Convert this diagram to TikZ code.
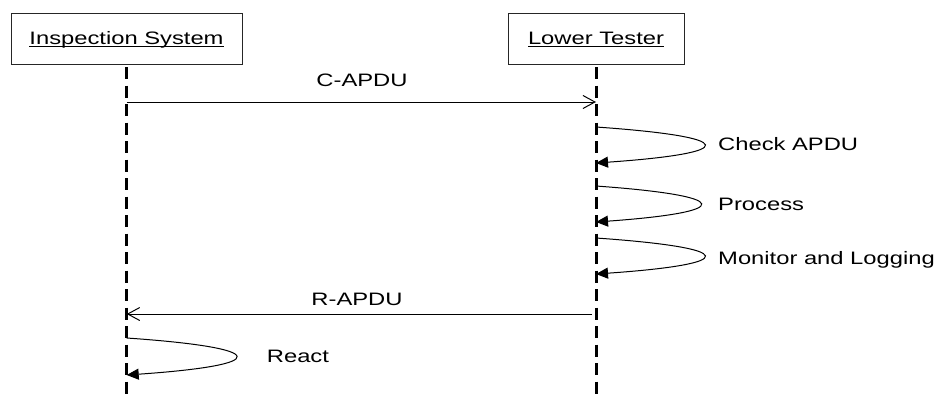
\documentclass[tikz,border=0pt]{standalone}
\usepackage{fontspec}
\setmainfont{Liberation Sans}
\usetikzlibrary{arrows.meta}
% wide labels and a word-processor style underline that runs through descenders
\newcommand\widetext[1]{\scalebox{1.32}[1]{#1}}
\newcommand\ulined[1]{\setbox0=\hbox{#1}\rlap{\rule[-2pt]{\wd0}{1pt}}\box0}
\begin{document}
\begin{tikzpicture}[x=1pt,y=-1pt,
  every node/.style={font=\fontsize{18}{21}\selectfont},
  actor/.style={draw=black!85, line width=1pt, minimum height=51pt,
    text height=12.9pt, text depth=0pt, inner sep=0pt},
  lifeline/.style={line width=3pt, dash pattern=on 12pt off 6.5pt},
  msg/.style={line width=1pt, -{Straight Barb[length=12pt,width=13pt,line width=1pt]}},
  selfmsg/.style={line width=1pt, -{Triangle[length=12pt,width=11pt]}},
  lbl/.style={inner sep=0pt, text height=12.9pt, text depth=0pt},
]
\useasboundingbox (0,0) rectangle (941,394);

% actors
\node[actor, minimum width=231pt] (is) at (126.5,38.5) {\widetext{\ulined{Inspection System}}};
\node[actor, minimum width=176pt] (lt) at (596,38.5) {\widetext{\ulined{Lower Tester}}};

% lifelines
\coordinate (bottom) at (0,394);
\coordinate (is-top) at (126.7,67);
\coordinate (lt-top) at (596,67);
\draw[lifeline] (is-top) -- (is-top |- bottom);
\draw[lifeline] (lt-top) -- (lt-top |- bottom);

% C-APDU
\coordinate (c-from) at (126.7,102);
\coordinate (c-to) at (596,102);
\draw[msg] (c-from) -- (c-to);
\node[lbl] (c-lbl) at (362,80) {\widetext{C-APDU}};

% self messages on the lower tester
\coordinate (chk-s) at (596,127);
\coordinate (chk-e) at (596,163);
\draw[selfmsg] (chk-s) .. controls (740,137) and (740,153) .. (chk-e);
\node[lbl, anchor=west] (chk-lbl) at (718,144) {\widetext{Check APDU}};

\coordinate (prc-s) at (596,186);
\coordinate (prc-e) at (596,222);
\draw[selfmsg] (prc-s) .. controls (735,196) and (735,212) .. (prc-e);
\node[lbl, anchor=west] (prc-lbl) at (718,204) {\widetext{Process}};

\coordinate (mon-s) at (596,238);
\coordinate (mon-e) at (596,274);
\draw[selfmsg] (mon-s) .. controls (740,248) and (740,264) .. (mon-e);
\node[lbl, anchor=west] (mon-lbl) at (718,258) {\widetext{Monitor and Logging}};

% R-APDU
\coordinate (r-from) at (592,314);
\coordinate (r-to) at (126.7,314);
\draw[msg] (r-from) -- (r-to);
\node[lbl] (r-lbl) at (357,299) {\widetext{R-APDU}};

% self message on the inspection system
\coordinate (rea-s) at (126.7,338);
\coordinate (rea-e) at (126.7,375);
\draw[selfmsg] (rea-s) .. controls (272,348) and (272,365) .. (rea-e);
\node[lbl, anchor=west] (rea-lbl) at (266.7,356) {\widetext{React}};
\end{tikzpicture}
\end{document}
